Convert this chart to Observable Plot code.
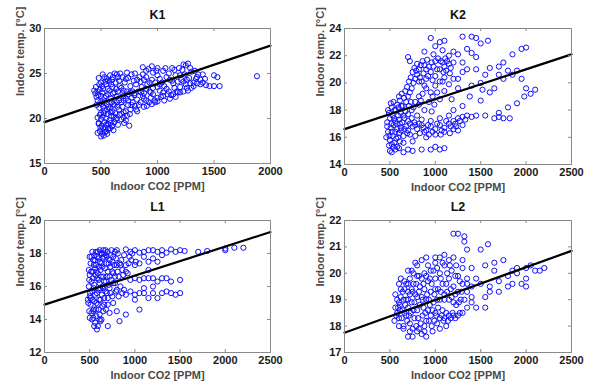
<!DOCTYPE html>
<html>
<head>
<meta charset="utf-8">
<script src="https://cdn.jsdelivr.net/npm/d3@7"></script>
<script src="https://cdn.jsdelivr.net/npm/@observablehq/plot@0.6"></script>
<style>
  body { margin: 0; background: #fff; }
  #chart { position: relative; width: 591px; height: 385px; background: #fff; overflow: hidden; }
  #chart svg { position: absolute; }
</style>
</head>
<body>
<div id="chart"></div>
<script>
// ---------- data ----------
const panelNames = ["K1", "K2", "L1", "L2"];
const xLabel = "Indoor CO2 [PPM]";
const yLabel = "Indoor temp. [°C]";

const k1XTicks = [0, 500, 1000, 1500, 2000];
const k1YTicks = [15, 20, 25, 30];
const k2XTicks = [0, 500, 1000, 1500, 2000, 2500];
const k2YTicks = [14, 16, 18, 20, 22, 24];
const l1XTicks = [0, 500, 1000, 1500, 2000, 2500];
const l1YTicks = [12, 14, 16, 18, 20];
const l2XTicks = [0, 500, 1000, 1500, 2000, 2500];
const l2YTicks = [17, 18, 19, 20, 21, 22];

// regression lines [co2, temp]
const k1Fit = [[0, 19.6], [2000, 28.1]];
const k2Fit = [[0, 16.6], [2500, 22.1]];
const l1Fit = [[0, 14.9], [2500, 19.3]];
const l2Fit = [[0, 17.75], [2500, 20.85]];

// measurements [co2, temp]
const k1Points = [
[500,18.0],[510,18.3],[490,18.6],[520,18.9],[505,19.2],[540,19.0],[530,19.6],[500,19.9],[560,19.4],[480,19.5],
[515,20.2],[545,20.0],[500,20.6],[530,20.9],[560,20.5],[575,19.8],[590,20.3],[520,21.3],[550,21.6],[580,21.1],
[600,20.8],[495,21.8],[470,22.0],[450,22.8],[470,23.0],[500,22.5],[530,22.3],[560,22.7],[590,22.2],[610,21.6],
[520,23.3],[545,23.8],[500,24.0],[480,24.5],[530,24.6],[560,24.2],[580,24.8],[600,23.5],[620,22.9],[640,22.4],
[630,24.0],[650,24.6],[670,25.0],[620,25.0],[600,24.3],[440,23.1],[460,21.5],[480,19.4],[490,23.2],[515,24.9],
[600,19.2],[620,19.6],[640,20.0],[650,19.3],[680,20.5],[700,20.1],[720,20.8],[690,21.3],[660,21.0],[740,21.5],
[760,21.0],[780,21.8],[800,21.4],[750,19.2],[820,22.1],[850,21.8],[870,22.5],[900,22.0],[700,22.5],[730,23.0],
[680,23.4],[710,24.0],[760,23.6],[790,24.2],[740,24.5],[650,23.0],[620,21.5],[700,22.0],[770,22.3],[830,23.0],
[860,23.5],[880,24.3],[840,24.6],[900,25.3],[870,25.7],[920,25.5],[950,25.8],[930,23.0],[960,22.7],[1000,22.3],
[1020,23.1],[980,24.0],[1000,24.8],[1050,25.3],[1080,24.6],[1100,25.0],[1060,23.6],[1100,23.0],[1120,22.6],[1150,23.4],
[1180,24.1],[1200,24.8],[1220,25.4],[1250,25.9],[1270,26.1],[1230,26.0],[1200,23.5],[1250,23.8],[1280,24.5],[1300,25.2],
[1320,24.0],[1350,24.6],[1300,23.4],[1350,23.9],[1380,24.3],[1400,24.0],[1430,23.7],[1460,23.6],[1500,23.6],[1550,23.6],
[1500,24.8],[1530,24.6],[1400,24.9],[1880,24.7],[1150,25.4],[1000,25.6],[950,24.3],[900,23.3],[1050,22.5],[980,21.8],
[940,22.3],[1130,24.2],[1180,22.9],[1270,23.1],[800,25.0],[780,23.0],[820,20.8],[880,21.3],[550,18.6],[580,18.9],
[610,18.7],[700,20.7],[640,21.8],[720,19.8],[560,23.3],[590,23.8],[460,22.4],[540,24.1],
[470,18.4],[525,18.1],[555,18.3],[495,19.0],[545,19.3],[585,19.5],[470,20.1],[490,20.4],[525,20.6],[555,21.0],
[585,20.7],[615,20.2],[485,21.2],[505,21.6],[535,21.9],[565,21.3],[595,21.8],[625,20.6],[475,22.6],[510,22.9],
[545,22.5],[575,23.1],[605,22.8],[635,23.3],[455,23.5],[485,23.8],[510,23.6],[550,24.4],[575,24.1],[605,24.6],
[640,24.9],[660,24.2],[665,23.6],[645,21.3],[660,22.0],[665,20.4],[630,19.9],[565,18.9],[595,19.1],[535,18.5],
[680,19.9],[705,19.5],[730,20.3],[755,20.5],[690,22.8],[720,22.2],[745,22.7],[770,21.5],[795,22.6],[810,21.0],
[835,21.5],[855,22.9],[880,22.8],[905,21.4],[925,21.8],[950,21.6],[975,22.0],[1000,21.9],[1030,22.4],[1060,22.0],
[1090,22.7],[1110,22.2],[1140,22.7],[1160,22.4],[1200,22.9],[1230,23.0],[1260,23.4],[1290,23.9],[1320,23.6],[720,24.4],
[770,24.9],[810,23.8],[850,24.1],[870,24.9],[900,24.6],[930,24.0],[960,25.1],[990,25.3],[1020,24.4],[1040,24.0],
[1070,25.6],[1110,24.3],[1130,25.6],[1160,24.8],[1190,25.6],[1210,24.3],[1240,24.9],[1260,24.3],[1290,25.6],[1330,25.3],
[1340,24.4],[1000,23.5],[960,23.4],[1080,23.3],[1140,23.9],[1050,22.9],[1020,23.8],[910,23.8],[820,24.3],[760,22.9],
[700,23.1],[690,24.6],[730,25.1],[680,21.8],[740,22.0],[800,22.8],[880,22.2],[940,22.9],[1170,23.0],[1230,24.1],
[1380,23.8],[1420,24.4],[1360,24.9]
];

const k2Points = [
[500,15.0],[520,14.9],[560,15.1],[550,15.6],[500,15.8],[530,16.1],[480,16.4],[510,16.7],[540,16.9],[470,17.1],
[500,17.4],[530,17.6],[560,17.2],[580,16.6],[600,16.3],[570,15.9],[610,17.0],[590,17.6],[620,17.8],[550,18.0],
[520,18.2],[580,18.4],[610,18.7],[640,18.3],[660,17.4],[680,16.8],[650,16.1],[700,16.5],[720,17.0],[700,17.7],
[680,18.6],[700,19.0],[720,19.3],[740,19.6],[760,20.0],[780,20.3],[800,20.6],[820,21.0],[790,20.9],[830,20.4],
[850,20.1],[870,20.7],[880,21.3],[900,21.0],[920,20.5],[950,20.8],[980,21.2],[1000,21.6],[1050,21.0],[1080,21.5],
[1100,21.2],[1120,20.9],[1150,21.4],[1100,20.4],[1050,20.1],[1000,19.8],[950,19.3],[900,19.6],[860,19.2],[820,19.0],
[780,18.6],[760,18.2],[740,18.0],[880,18.0],[930,18.6],[960,17.9],[990,18.4],[1050,18.8],[1100,19.4],[1150,19.9],
[1200,20.3],[1180,18.8],
[700,21.9],[720,21.6],[880,22.3],[950,23.3],[1000,22.7],[1050,23.0],[1100,23.1],[980,22.1],[1080,22.4],[1150,22.0],
[1200,22.3],[1250,22.1],
[750,16.8],[800,16.6],[850,16.9],[900,16.5],[950,16.8],[1000,16.6],[1050,16.9],[1100,16.7],[1150,17.0],[1200,17.2],
[1250,17.4],[1300,17.5],[1350,17.6],[1400,17.5],[1450,17.6],[1550,17.6],[780,16.1],[900,16.0],[1000,16.2],[1100,16.4],
[1200,16.6],[1300,16.9],[850,17.3],[950,17.2],[1050,17.4],[1150,17.6],[1250,16.5],[650,15.6],[750,15.7],[600,15.2],
[650,14.9],[750,15.0],[850,15.1],[950,15.1],[1000,15.3],[1100,15.2],[1050,15.1],[700,15.1],
[1300,23.4],[1400,23.4],[1450,23.3],[1350,22.5],[1400,22.2],[1450,21.9],[1500,22.9],[1580,23.1],[1300,21.5],[1350,21.0],
[1250,20.3],[1450,21.0],[1500,20.0],[1600,21.1],[1550,20.6],[1380,19.0],[1500,18.7],[1600,19.3],[1650,19.6],[1700,20.6],
[1750,21.5],[1800,20.9],[1850,22.1],[1900,20.9],[1950,22.5],[2000,22.6],[1950,20.3],[2000,19.6],[2050,19.2],[2100,19.5],
[1900,18.5],[1980,19.0],[1700,17.8],[1750,17.4],[1800,18.2],[1820,17.4],[1700,17.5],[1650,17.4],[1300,18.3],[1200,18.0],
[1250,19.6],[1400,19.8],[1520,19.5],[1750,20.3],[1850,20.6],[1700,21.2],[1200,21.5],[1300,20.8],
[460,16.0],[490,15.4],[520,15.5],[540,15.3],[580,15.3],[610,15.7],[470,16.8],[495,16.1],[520,16.4],[560,16.4],
[590,16.0],[625,16.5],[490,17.8],[515,17.0],[545,17.4],[575,17.0],[600,17.3],[635,17.1],[650,17.6],[480,18.0],
[510,18.5],[540,18.6],[565,18.0],[595,18.2],[625,18.3],[655,18.9],[600,19.0],[630,19.2],[670,19.4],[690,19.7],
[710,18.3],[730,18.6],[670,17.9],[690,16.3],[720,16.2],[740,17.4],[770,17.1],[800,17.6],[820,18.4],[840,18.7],
[710,20.1],[730,20.4],[750,20.8],[770,21.1],[800,21.4],[820,20.1],[840,21.3],[860,21.6],[880,19.8],[900,20.3],
[910,21.7],[930,21.2],[960,21.5],[970,20.2],[1000,20.5],[1020,21.0],[1030,21.8],[1060,21.6],[1090,20.8],[1110,21.8],
[1130,21.6],[1160,20.7],[1170,21.1],[1020,19.3],[970,19.0],[1080,20.1],
[620,16.7],[660,16.6],[700,17.2],[780,16.9],[820,17.0],[870,16.7],[920,16.9],[970,16.4],[1020,17.0],[1070,16.5],
[1120,17.2],[1170,16.8],[1220,17.0],[1270,17.2],[1330,17.3],[930,16.2],[880,16.4],[830,16.3],[1060,16.2],[1160,16.3],
[1230,16.8]
];

const l1Points = [
[500,14.1],[520,14.4],[540,14.1],[560,13.8],[580,13.4],[570,14.6],[510,14.9],[550,15.1],[590,14.9],[610,14.3],
[630,14.0],[500,15.4],[530,15.7],[560,15.5],[600,15.8],[620,15.2],[640,14.8],[490,16.0],[520,16.3],[550,16.1],
[580,16.5],[610,16.2],[640,16.0],[500,16.7],[530,16.9],[560,17.1],[590,16.8],[620,17.0],[650,16.6],[510,17.4],
[540,17.6],[570,17.3],[600,17.7],[630,17.4],[660,17.8],[550,17.9],[590,18.1],[620,18.0],[650,18.2],[680,17.9],
[700,18.1],[720,17.6],[740,18.2],[760,17.8],[780,18.1],[670,17.1],[700,16.9],[730,17.2],[760,16.8],[800,17.3],
[680,16.3],[710,16.1],[740,16.4],[780,16.2],[820,16.6],[690,15.6],[720,15.9],[750,15.4],[790,15.7],[660,15.3],
[700,14.9],[650,14.5],[700,13.6],[830,13.9],[900,14.3],[1050,14.6],[800,14.5],[550,13.6],[480,15.2],[490,17.0],
[500,17.8],[660,18.0],[850,17.6],[880,17.9],[900,17.3],[860,17.0],[920,16.8],[840,16.0],[880,15.8],[760,15.0],
[620,13.9],
[800,18.2],[900,18.25],[950,18.1],[1000,18.2],[1050,18.05],[1100,18.1],[1150,18.2],[1200,18.2],[1250,18.1],[1300,18.2],
[1350,18.05],[1400,18.25],[1450,18.1],[1500,18.2],[1550,18.15],[1700,18.1],[1800,18.15],[2000,18.3],[2000,18.2],[2100,18.35],
[2200,18.35],
[960,17.6],[1000,17.3],[1010,17.5],[1050,17.4],[1100,17.8],[1150,17.5],[1200,17.7],[1250,17.5],[1300,17.9],[1150,17.0],
[950,16.4],[1000,16.5],[1050,16.4],[1100,16.5],[1150,16.5],[1200,16.5],[1250,16.3],[1300,16.5],[1400,16.3],[1500,16.4],
[1350,16.5],
[950,15.7],[1000,15.5],[1050,15.6],[1100,15.6],[1150,15.3],[1200,15.6],[1250,15.3],[1300,15.6],[1350,15.7],[1400,15.6],
[1450,15.5],[1500,15.6],[1000,15.2],[900,15.5],[1200,16.0],[1100,15.9],
[495,14.5],[525,14.0],[545,14.6],[575,14.2],[600,14.6],[485,15.0],[530,15.2],[575,15.0],[605,15.2],[635,15.5],
[660,14.9],[505,15.6],[545,15.9],[580,15.6],[615,15.9],[650,15.9],[675,15.7],[495,16.4],[535,16.5],[565,16.7],
[600,16.4],[625,16.6],[660,16.3],[690,16.6],[515,16.9],[545,17.3],[575,16.9],[605,17.2],[640,17.2],[685,17.4],
[520,17.8],[560,17.6],[580,17.8],[615,17.5],[645,17.7],[690,17.8],[530,18.1],[570,18.1],[610,18.2],[635,18.0],
[675,18.2],[710,17.4],[730,17.9],[750,17.5],[770,17.3],[790,17.7],[810,18.0],[830,17.4],[720,16.6],[750,16.9],
[780,16.6],[810,16.9],[840,17.3],[870,16.7],[900,16.9],[930,17.4],[940,17.8],[970,18.0],[700,15.3],[730,15.6],
[760,16.2],[800,15.8],[820,15.4],[860,15.6],[680,14.6],[720,14.4],[610,14.0],[590,13.6],[540,14.5],[510,15.3]
];

const l2Points = [
[550,18.2],[580,18.5],[600,18.9],[560,19.2],[620,19.1],[600,18.3],[650,18.0],[680,18.4],[700,18.7],[650,19.0],
[700,19.3],[620,19.4],[680,19.0],[720,18.1],[750,17.9],[770,18.3],[800,18.6],[740,18.9],[780,19.2],[760,19.6],
[720,19.8],[800,19.9],[830,19.5],[850,19.1],[830,18.8],[860,18.4],[880,18.0],[900,18.2],[920,18.6],[900,19.0],
[950,19.3],[920,19.7],[880,20.0],[850,20.5],[800,20.3],[900,20.6],[950,20.1],[1000,19.8],[1000,19.4],[980,18.9],
[1000,18.5],[1020,18.1],[1050,18.3],[1080,18.6],[1050,19.0],[1100,19.2],[1080,19.6],[1050,20.0],[1100,20.3],[1000,20.6],
[1050,20.6],[1100,20.7],[1150,20.5],[1200,20.6],[1150,19.8],[1200,19.5],[1150,19.0],[1200,18.9],[1150,18.4],[1100,18.3],
[1200,18.4],[1250,18.4],[1300,18.5],[1280,19.0],[1250,19.3],[1300,19.6],[1250,19.9],[1300,20.2],[1350,19.8],[1350,19.3],
[1400,19.5],[1300,20.5],[700,17.6],[750,17.6],[900,17.6],[850,17.7],[820,17.9],[960,18.0],[1050,17.9],[640,18.6],
[560,18.7],[600,19.6],[680,19.6],[740,20.1],[780,20.4],[600,18.0],[950,18.4],[850,19.8],
[1200,21.5],[1250,21.5],[1320,21.4],[1320,21.2],[1350,20.9],[1500,20.9],[1580,21.1],[1400,20.2],[1550,20.3],[1650,20.4],
[1500,19.6],[1600,19.5],[1700,19.7],[1800,19.9],[1850,20.1],[1900,20.2],[2000,20.2],[2050,20.3],[2100,20.1],[2200,20.2],
[1700,19.3],[1800,19.5],[1850,19.6],[2000,19.8],[1950,19.6],[2000,19.5],[1750,20.5],[1650,20.1],[1600,19.3],[1550,19.1],
[1550,18.7],[1450,18.7],[1400,18.9],[1900,20.0],[2150,20.1],[1450,19.8],[1350,18.7],[1400,19.1],
[570,18.4],[590,18.7],[610,18.6],[630,18.3],[660,18.5],[670,18.8],[690,18.2],[710,18.4],[730,18.5],[760,18.6],
[790,18.0],[810,18.3],[840,18.1],[870,18.7],[890,18.5],[930,18.2],[940,18.8],[970,18.6],[990,18.2],[1010,18.4],
[1030,18.7],[1070,18.4],[1090,18.2],[1120,18.5],[1140,18.2],[1170,18.3],[1190,18.5],[1220,18.3],[1270,18.5],[580,19.0],
[610,18.8],[640,19.3],[660,19.4],[700,19.0],[720,19.2],[750,19.3],[770,18.9],[800,19.1],[820,19.3],[860,19.0],
[880,19.4],[910,19.2],[930,19.0],[960,19.6],[990,19.2],[1020,19.0],[1030,19.4],[1060,19.3],[1100,19.0],[1130,19.3],
[1170,19.4],[1180,19.1],[1220,19.2],[1230,18.8],[1260,18.9],[1290,19.3],[1320,19.0],[620,19.8],[660,19.7],[700,19.6],
[740,19.4],[790,19.6],[820,19.9],[870,19.6],[900,19.9],[940,19.8],[980,20.1],[1020,20.2],[1060,19.8],[1120,19.6],
[1130,20.0],[1180,20.1],[1220,19.9],[1270,19.7],[1350,19.6],[760,20.0],[700,20.1],[920,20.3],[1000,20.4],[1080,20.4],
[1160,20.3],[1230,20.3],[650,17.9],[800,17.8],[880,17.8],[970,17.8],[1120,18.0],[720,17.8]
];

// ---------- layout ----------
const panels = [
  {name: panelNames[0], pts: k1Points, fit: k1Fit, xt: k1XTicks, yt: k1YTicks,
   left: 0, top: 0, width: 295, height: 192, m: {t: 28, r: 25, b: 29, l: 44}},
  {name: panelNames[1], pts: k2Points, fit: k2Fit, xt: k2XTicks, yt: k2YTicks,
   left: 300, top: 0, width: 291, height: 192, m: {t: 28, r: 20, b: 28, l: 44}},
  {name: panelNames[2], pts: l1Points, fit: l1Fit, xt: l1XTicks, yt: l1YTicks,
   left: 0, top: 192, width: 295, height: 193, m: {t: 28, r: 25, b: 33, l: 44}},
  {name: panelNames[3], pts: l2Points, fit: l2Fit, xt: l2XTicks, yt: l2YTicks,
   left: 300, top: 192, width: 291, height: 193, m: {t: 28, r: 20, b: 33, l: 44}}
];

const chart = document.getElementById("chart");
const axisGray = "#8a8a8a";
const tl = 3;
const plain = d => `${d}`;

for (const p of panels) {
  const fw = p.width - p.m.l - p.m.r;
  const fh = p.height - p.m.t - p.m.b;
  const xd = [p.xt[0], p.xt[p.xt.length - 1]];
  const yd = [p.yt[0], p.yt[p.yt.length - 1]];
  const svg = Plot.plot({
    width: p.width,
    height: p.height,
    marginTop: p.m.t, marginRight: p.m.r, marginBottom: p.m.b, marginLeft: p.m.l,
    style: {fontFamily: "'Liberation Sans', Arial, sans-serif", fontSize: "11px", background: "transparent", overflow: "visible"},
    x: {domain: xd, ticks: p.xt},
    y: {domain: yd, ticks: p.yt},
    marks: [
      Plot.dot(p.pts, {x: d => d[0], y: d => d[1], r: 2.6, stroke: "#1010ff", strokeWidth: 1, fill: "none"}),
      Plot.line(p.fit, {x: d => d[0], y: d => d[1], stroke: "#000", strokeWidth: 2.2}),
      Plot.frame({stroke: axisGray, strokeWidth: 1}),
      // inward ticks on all four sides
      Plot.tickX(p.xt, {x: d => d, stroke: axisGray, insetTop: fh - tl}),
      Plot.tickX(p.xt, {x: d => d, stroke: axisGray, insetBottom: fh - tl}),
      Plot.tickY(p.yt, {y: d => d, stroke: axisGray, insetRight: fw - tl}),
      Plot.tickY(p.yt, {y: d => d, stroke: axisGray, insetLeft: fw - tl}),
      Plot.axisX(p.xt, {tickSize: 0, tickPadding: 4, tickFormat: plain, label: null, fontWeight: "bold", fill: "#1a1a1a", fontSize: 11}),
      Plot.axisY(p.yt, {tickSize: 0, tickPadding: 3, tickFormat: plain, label: null, fontWeight: "bold", fill: "#1a1a1a", fontSize: 11}),
      Plot.text([p.name], {text: d => d, frameAnchor: "top", dy: -14, lineAnchor: "middle",
        fontWeight: "bold", fontSize: 12.5, fill: "#111"}),
      Plot.text([xLabel], {text: d => d, frameAnchor: "bottom", dy: 23, lineAnchor: "middle",
        fontWeight: "bold", fontSize: 11, fill: "#4a4a4a"}),
      Plot.text([yLabel], {text: d => d, frameAnchor: "left", dx: -24, rotate: -90, lineAnchor: "middle",
        fontWeight: "bold", fontSize: 11, fill: "#4a4a4a"})
    ]
  });
  svg.style.left = p.left + "px";
  svg.style.top = p.top + "px";
  chart.appendChild(svg);
}
</script>
</body>
</html>
